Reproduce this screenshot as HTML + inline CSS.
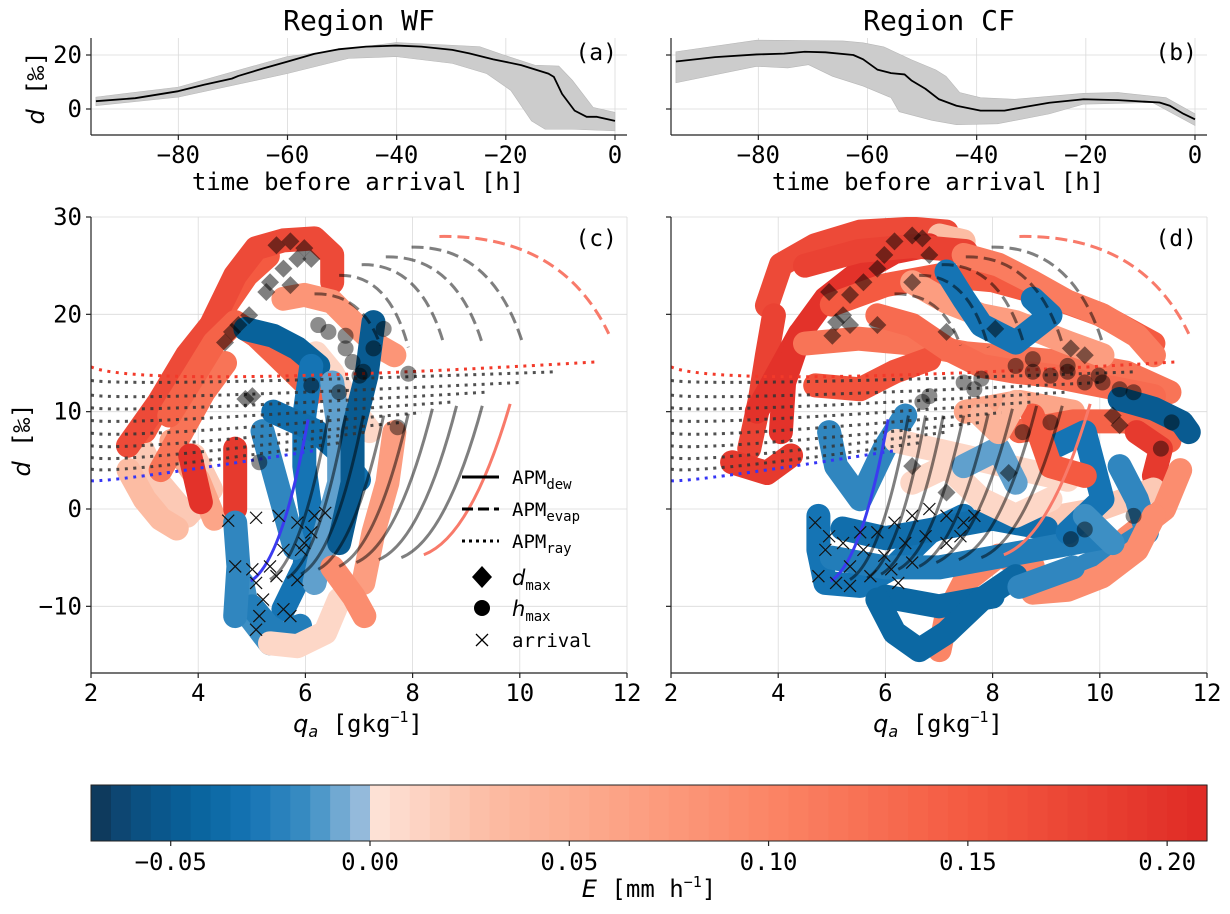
<!DOCTYPE html>
<html><head><meta charset="utf-8"><style>
html,body{margin:0;padding:0;background:#fff}
svg{display:block}
text{font-family:"DejaVu Sans Mono","Liberation Mono",monospace;fill:#000}
</style></head><body>
<svg id="fig" width="1230" height="914" viewBox="0 0 1230 914" xmlns="http://www.w3.org/2000/svg"></svg>
<script>
// ---------------- DATA ----------------
const aHours=[-95.1,-87.9,-80,-75.3,-70.2,-69,-64.5,-60.1,-55.1,-50.7,-45.6,-40.1,-35.5,-29.8,-26.7,-22.3,-17.2,-12.2,-11.2,-9.7,-7.4,-5.2,-3.3,0];
const aMean=[2.9,4.0,6.6,9.0,11.25,12.25,15,17.5,20.4,22.1,23.1,23.5,23.1,21.9,20.6,18.4,16.25,13.1,11.9,5.6,-0.6,-2.9,-2.9,-4.4];
const aUpH=[-95.1,-80,-60.1,-40.1,-24.8,-20.4,-14.7,-10.3,-7.8,-4.0,0];
const aUp=[4.4,8.1,19.4,24.6,23.1,20,16.25,15.9,10.6,0.6,-1.25];
const aLoH=[-95.1,-80,-60.1,-48.8,-40.1,-29.8,-23.5,-19.1,-15.3,-12.8,-7.8,0];
const aLo=[1.25,4.4,13.1,18.75,19.4,16.9,13.1,6.9,-4.4,-7.5,-7.5,-8.1];
const bHours=[-95.1,-87.9,-80.3,-75.3,-71.5,-67.7,-62.6,-60.8,-58.2,-55.7,-53.2,-51.9,-49.4,-46.9,-43.7,-39.3,-34.9,-31.1,-26.7,-20.4,-14.1,-6.5,-4.6,-2.1,0];
const bMean=[17.6,19.2,20.2,20.5,21.2,21,20,18.4,14.6,13.3,12.8,10.5,7.5,3.6,1.2,-0.6,-0.6,0.8,2.3,3.6,3.3,2.4,1.2,-1.8,-3.8];
const bUpH=[-95.1,-80.3,-64.5,-60.8,-57,-51.9,-47.5,-45.6,-43.1,-39.3,-33,-20.4,-14.1,-5.3,0];
const bUp=[21.2,25.5,25.2,24.5,23.0,18.2,14.5,12.1,6.1,4.2,3.6,5.8,6.1,4.2,-1.8];
const bLoH=[-95.1,-80.3,-74.6,-70.8,-66.4,-60.8,-55.7,-54.2,-48.2,-43.7,-36.2,-26.7,-20.4,-7.8,0];
const bLo=[9.7,15.8,15.2,16.4,12.1,8.5,4.2,-1.0,-4.2,-5.8,-5.5,-1.8,1.8,2.4,-6.1];

const dewBotQ=[4.98,5.34,5.66,5.92,6.24,6.63,6.95,7.37,7.79,8.21];
const dewBotD=[-7.4,-7.25,-7.1,-6.7,-6.2,-5.9,-5.5,-5.2,-5.0,-4.7];
const dewTopQ=[6.05,6.43,6.75,7.08,7.46,7.92,8.37,8.82,9.30,9.82];
const dewTopD=[9.2,9.6,9.6,9.6,9.6,9.8,10.3,10.6,10.6,10.8];
const dewKind=['blue','gray','gray','gray','gray','gray','gray','gray','gray','red'];
const evapStartQ=[6.17,6.63,7.05,7.50,7.98,8.50];
const evapStartD=[22.1,24.0,25.1,25.9,26.9,28.0];
const evapEndQ=[7.40,7.92,8.59,9.30,10.05,11.66];
const evapEndD=[16.8,16.6,16.8,17.0,17.1,18.0];
const evapKind=['gray','gray','gray','gray','gray','red'];
const rayStartD=[14.6,13.2,11.7,10.4,9.1,7.8,6.5,5.3,4.1,2.9];
const rayMidD=[13.6,13.1,11.7,10.5,9.3,8.0,6.8,5.6,4.5,3.6];
const rayEndQ=[11.40,10.69,10.01,9.37,8.75,8.17,7.79,7.14,6.63,6.17];
const rayEndD=[15.1,14.1,13.0,12.0,11.0,9.9,8.9,7.9,6.8,6.0];
const rayKind=['red','gray','gray','gray','gray','gray','gray','gray','gray','blue'];

const cTrajQ=[
 [2.95,3.27,3.79,4.24,3.92],
 [2.7,3.0,3.3,3.6],
 [3.5,4.0,4.3],
 [3.3,3.7,4.1,4.5],
 [3.0,3.4,3.9,4.4,4.9,5.3],
 [2.69,3.27,3.79,4.24,4.69,5.08,5.59,6.17,6.5,6.5],
 [3.46,3.92,4.3,4.69,5.08,5.46,5.85,6.17],
 [5.59,5.98,6.5,6.88,7.34,7.66],
 [4.69,4.69],[3.85,4.05],
 [6.2,6.5,6.8,7.2],
 [4.88,5.40,5.85,6.24],
 [6.11,5.98,5.98,6.11,5.98,5.59],
 [5.2,5.5,5.8],
 [5.4,5.8,6.2,6.6,7.0],
 [6.5,6.63,6.63,6.37,6.17],
 [7.27,7.14,6.88,6.88,6.63],
 [4.82,4.95,5.34],
 [5.0,5.3,5.6,5.9],
 [5.34,5.85,6.37,6.63],
 [4.69,4.75,4.69],
 [7.66,7.53,7.27,7.08],
 [6.5,6.9,7.1]
];
const cTrajD=[
 [6.2,2.7,-0.7,2.0,5.5],
 [4,1,-1,-2],
 [7,3,-1],
 [4,8,12,15],
 [8,12,16,20,24,26],
 [6.5,11,15.8,18.9,24,26.8,27.6,27.8,26.1,23.3],
 [9.6,13.7,17.1,19.2,17.8,15.8,13.7,12.0],
 [21.6,22,21.3,19.2,16.8,15.8],
 [6.2,0],[5.5,0.7],
 [16,14,11,8],
 [18.5,17.8,16.5,14.7],
 [14.7,9.6,4.4,-0.7,-5.9,-10.3],
 [8,2,-4],
 [10,9,8,6,3],
 [13,7.9,2.7,-2.4,-7.6],
 [19.2,13.7,7.9,2.7,-3.5],
 [-7.6,-11,-13.8],
 [-10,-12,-13,-12],
 [-13.8,-14.1,-12.7,-9.3],
 [-1.4,-5.9,-11],
 [7.9,2.7,-2.4,-7.6],
 [-6,-9,-11]
];
const cTrajE=[0.02,0.03,0.06,0.12,0.15,0.17,0.14,0.08,0.19,0.2,0.01,-0.045,-0.03,-0.02,-0.035,-0.01,-0.05,-0.015,-0.025,0.01,-0.02,0.07,0.09];

const dTrajQ=[
 [3.79,4.05,4.69,5.53,6.50,7.14],
 [7.01,7.46],
 [3.46,3.66,3.79,3.92],
 [3.6,4.0,4.4],
 [4.05,4.11,4.43,4.88,5.53,6.17,6.82],
 [4.5,5.5,6.5,7.5],
 [5,6,7,8,9,10,11],
 [4.5,5.5,6.5,7.5,8.5,9.5,10.5,11.3],
 [3.14,3.79,4.24],
 [4.69,5.53,6.17,6.82],
 [5.85,6.5,7.14,7.79,8.43,9.08,9.72,10.37,11.01],
 [7.46,8.11,8.75,9.40,10.05,10.69,11.01],
 [6.5,7.14,7.79,8.43,9.40,10.05],
 [7.14,7.46,7.79,8.43,9.08,8.75],
 [7.5,8.5,9.5],
 [8.5,9.5,10.5,11.3],
 [10.37,11.01,11.53,11.66],
 [10.69,11.14,11.01],
 [9,10,11],
 [10.5,11.2,11.5],
 [10.37,10.69,10.88,10.37,9.72],
 [11.01,10.69,10.05,9.40,8.75],
 [8.75,8.11,7.46,7.14,7.01],
 [4.75,4.75,4.88,5.53,6.17,6.82,7.46],
 [5.2,6,7,8,9],
 [5,6,7,8,9,10],
 [6,7,8],
 [4.95,5.08,5.53,5.98,6.37],
 [5.85,6.17,6.63,7.14,7.79,8.43],
 [6.2,7,7.8,8.6,9.4],
 [6.5,7.14,7.79,8.43,9.08],
 [7.46,8.11,8.43],
 [9.08,9.72,10.05,9.40],
 [8.75,9.08,9.72],
 [7.79,8.11,8.43],
 [9.72,10.24],
 [8.5,9.5]
];
const dTrajD=[
 [20.9,25.1,27.1,28.5,28.8,28.5],
 [28.1,27.5],
 [6.2,11.3,15.8,19.9],
 [10,14,18],
 [7.9,13,18.2,21.6,24.4,26.4,27.1],
 [25,26.5,27,26.5],
 [21,23,24,23.5,22,20,17],
 [17,17.5,17,16,15.5,15,14,12],
 [4.8,3.7,5.5],
 [12.7,12.3,14.1,15.4],
 [19.9,18.9,16.5,14.7,14.1,13.7,13.0,12.3,11.6],
 [26.1,25.1,23.3,21.3,19.9,17.8,15.8],
 [23.3,21.3,19.9,19.2,17.1,15.8],
 [24.4,21.6,18.9,17.1,19.9,21.6],
 [10,11,10],
 [8,9,9,7],
 [11.3,10.3,8.9,7.9],
 [7.9,6.2,3.4],
 [-1,0,2],
 [-3,0,4],
 [4.4,1.0,-2.4,-4.2,-5.9],
 [-0.7,-4.2,-6.9,-8.3,-8.6],
 [-5.9,-4.8,-7.6,-11.0,-14.5],
 [-0.7,-4.2,-7.6,-7.9,-5.9,-2.4,-0.7],
 [-2,-3,-2,-1,-2],
 [-5,-6,-6,-5,-4,-3],
 [-9,-10,-9],
 [7.9,4.4,1.0,6.2,9.6],
 [-9.3,-12.7,-14.5,-12.7,-9.3,-6.9],
 [7,6,5,4,3],
 [2.7,4.4,1.0,-0.7,1.0],
 [4.4,6.2,2.7],
 [6.2,7.9,1.0,-2.4],
 [9.6,4.4,3.4],
 [9.6,7.9,11],
 [-0.7,-3.5],
 [-8,-6]
];
const dTrajE=[0.17,0.03,0.18,0.2,0.2,0.18,0.15,0.12,0.19,0.16,0.13,0.11,0.07,-0.03,0.06,0.14,-0.05,0.19,0.02,0.09,-0.02,0.09,0.1,-0.03,-0.035,-0.025,-0.04,-0.02,-0.04,0.01,0.01,-0.01,-0.03,0.15,0.04,-0.015,-0.02];

const cDiaQ=[5.46,5.72,5.98,5.34,5.59,5.85,6.11,5.27,5.72,4.95,4.75,4.50,4.63,5.01,4.88];
const cDiaD=[27.1,27.5,26.8,23.3,24.7,25.7,25.7,22.3,23.0,19.9,18.9,17.1,18.2,11.6,11.3];
const cCirQ=[6.24,6.43,6.75,6.88,7.08,7.27,7.46,7.01,6.63,7.92,7.72,5.14,6.11,6.75];
const cCirD=[18.9,18.2,16.5,15.1,14.1,16.5,18.5,13.7,12,13.9,8.4,4.8,12.7,17.8];
const cXQ=[4.56,5.08,5.50,5.85,6.11,6.37,5.98,5.59,5.34,5.01,4.69,5.08,5.46,5.85,5.21,5.59,5.72,5.14,5.08,6.17,5.92];
const cXD=[-1.2,-0.9,-0.7,-1.4,-2.4,-0.4,-3.5,-4.2,-5.9,-6.2,-5.9,-7.6,-6.9,-7.3,-9.3,-10.3,-11.0,-11.0,-12.4,-0.7,-4.2];
const dDiaQ=[6.17,6.5,6.69,5.98,5.85,5.59,5.34,5.21,5.08,5.34,4.95,5.01,5.85,6.5,6.82,8.05,7.14,9.46,9.72,10.24,10.37,6.5,8.3,7.14];
const dDiaD=[27.5,28.1,27.8,26.1,24.7,23.3,22.0,19.9,19.2,18.9,22.3,17.8,18.9,23.3,26.1,18.5,18.2,16.5,15.8,9.6,8.6,4.4,3.7,1.7];
const dCirQ=[8.43,8.75,9.08,9.40,9.72,10.05,10.37,7.79,7.46,6.82,6.69,8.75,9.40,9.98,10.63,11.34,11.14,9.72,9.46,10.63,8.56,9.08,7.66];
const dCirD=[14.7,14.1,13.7,14.1,13.0,13.0,12.3,13.4,13.0,11.6,11.0,15.4,14.7,13.7,12.0,8.9,6.2,-2.1,-3.1,-0.7,7.9,8.9,12.3];
const dXQ=[4.69,4.88,4.75,5.08,5.34,5.59,5.85,6.17,6.5,6.82,7.14,7.46,7.66,5.21,5.53,5.98,6.37,6.75,7.14,7.40,5.72,6.11,6.5,5.34,4.95,6.24];
const dXD=[-1.4,-4.2,-6.9,-7.6,-5.9,-4.2,-2.4,-1.4,-0.7,0,-0.7,-1.4,-0.7,-3.5,-2.4,-4.8,-3.5,-2.8,-3.5,-2.8,-6.9,-6.2,-5.5,-7.9,-2.8,-7.6];

const timeTicks=[-80,-60,-40,-20,0];
const aYTicks=[20,0];
const qTicks=[2,4,6,8,10,12];
const dTicks=[30,20,10,0,-10];
const cbTicks=[-0.05,0,0.05,0.10,0.15,0.20];
const cbLabels=['−0.05','0.00','0.05','0.10','0.15','0.20'];

// ---------------- RENDER ----------------
const NS='http://www.w3.org/2000/svg';
const svg=document.getElementById('fig');
function el(tag,attrs,parent){const e=document.createElementNS(NS,tag);for(const k in attrs)e.setAttribute(k,attrs[k]);(parent||svg).appendChild(e);return e;}
function lin(d0,d1,p0,p1){return v=>p0+(v-d0)*(p1-p0)/(d1-d0);}

const negStops=[[-0.07,[15,52,82]],[-0.06,[12,76,124]],[-0.045,[8,98,155]],[-0.03,[21,116,180]],[-0.015,[61,143,196]],[0,[166,195,224]]];
const posStops=[[0,[253,228,217]],[0.03,[252,188,163]],[0.06,[252,165,136]],[0.10,[251,133,102]],[0.15,[244,90,65]],[0.21,[223,42,37]]];
function cmap(v){
  const st=v<0?negStops:posStops;
  if(v<=st[0][0])return 'rgb('+st[0][1]+')';
  for(let i=1;i<st.length;i++){if(v<=st[i][0]){const t=(v-st[i-1][0])/(st[i][0]-st[i-1][0]);const c=st[i-1][1].map((a,j)=>Math.round(a+(st[i][1][j]-a)*t));return 'rgb('+c+')';}}
  return 'rgb('+st[st.length-1][1]+')';
}

function axesFrame(g,L,R,T,B,xs,ys,xt,yt,name){
  const grid=el('g',{},g);
  
  
  xt.forEach(v=>el('line',{x1:xs(v),x2:xs(v),y1:T,y2:B,stroke:'#dadada','stroke-width':0.8},grid));
  yt.forEach(v=>el('line',{x1:L,x2:R,y1:ys(v),y2:ys(v),stroke:'#dadada','stroke-width':0.8},grid));
}
function axesSpines(g,L,R,T,B,xs,ys,xt,yt,xtLabels,ytLabels,name,fs){
  const ax=el('g',{},g);
  
  
  el('line',{x1:L,x2:L,y1:T,y2:B,stroke:'#222','stroke-width':1.2},ax);
  el('line',{x1:L,x2:R,y1:B,y2:B,stroke:'#222','stroke-width':1.2},ax);
  xt.forEach((v,i)=>{el('line',{x1:xs(v),x2:xs(v),y1:B,y2:B+5,stroke:'#222','stroke-width':1.2},ax);
    if(xtLabels){const t=el('text',{x:xs(v),y:B+28,'text-anchor':'middle','font-size':fs},ax);t.textContent=xtLabels[i];
      
      }});
  yt.forEach((v,i)=>{el('line',{x1:L-5,x2:L,y1:ys(v),y2:ys(v),stroke:'#222','stroke-width':1.2},ax);
    if(ytLabels){const t=el('text',{x:L-9,y:ys(v)+8,'text-anchor':'end','font-size':fs},ax);t.textContent=ytLabels[i];
      
      }});
}
function fmtNum(v){return v<0?'−'+Math.abs(v):String(v);}

function topPanel(L,R,hours,mean,upH,up,loH,lo,title,tag,showY,name){
  const T=38,B=135;
  const xs=lin(-96,2.2,L,R), ys=lin(0,20,109,55);
  const g=el('g',{});
  
  
  axesFrame(g,L,R,T,B,xs,ys,timeTicks,aYTicks,name);
  let pts=upH.map((h,i)=>xs(h)+','+ys(up[i]));
  for(let i=loH.length-1;i>=0;i--)pts.push(xs(loH[i])+','+ys(lo[i]));
  const band=el('polygon',{points:pts.join(' '),fill:'#cccccc',stroke:'#b8b8b8','stroke-width':0.6},g);
  
  
  const ln=el('polyline',{points:hours.map((h,i)=>xs(h)+','+ys(mean[i])).join(' '),fill:'none',stroke:'#000','stroke-width':1.8,'stroke-linejoin':'round'},g);
  
  
  axesSpines(g,L,R,T,B,xs,ys,timeTicks,aYTicks,timeTicks.map(fmtNum),showY?aYTicks.map(fmtNum):null,name,24);
  const tt=el('text',{x:(L+R)/2,y:30,'text-anchor':'middle','font-size':28},g);tt.textContent=title;
  
  
  const tg=el('text',{x:R-10,y:60,'text-anchor':'end','font-size':23},g);tg.textContent=tag;
  
  
  const xl=el('text',{x:(L+R)/2-1,y:190,'text-anchor':'middle','font-size':24},g);xl.textContent='time before arrival [h]';
  
  
}
topPanel(91,627,aHours,aMean,aUpH,aUp,aLoH,aLo,'Region WF','(a)',true,'panel-a');
topPanel(671,1207,bHours,bMean,bUpH,bUp,bLoH,bLo,'Region CF','(b)',false,'panel-b');
{const yl=el('text',{x:0,y:0,'text-anchor':'middle','font-size':24,transform:'translate(44,88) rotate(-90)'});
yl.innerHTML='<tspan font-style="italic" font-family="DejaVu Sans">d</tspan> [‰]';

}

function scatterPanel(L,R,tq,td,te,diaQ,diaD,cirQ,cirD,xQ,xD,tag,showY,name){
  const T=217,B=673;
  const xs=lin(2,12,L,R), ys=lin(0,30,509,217);
  const g=el('g',{});
  
  
  axesFrame(g,L,R,T,B,xs,ys,qTicks,dTicks,name);
  const cp='clip-'+name;
  const defs=el('defs',{},g);const clip=el('clipPath',{id:cp},defs);el('rect',{x:L,y:T,width:R-L,height:B-T},clip);
  const sc=el('g',{'clip-path':'url(#'+cp+')'},g);
  
  
  tq.forEach((qs,k)=>{
    const col=cmap(te[k]);
    const p=el('polyline',{points:qs.map((q,i)=>xs(q)+','+ys(td[k][i])).join(' '),fill:'none',stroke:col,'stroke-width':24,'stroke-linecap':'round','stroke-linejoin':'round'},sc);
    
    
  });
  const apm=el('g',{'clip-path':'url(#'+cp+')'},g);
  
  
  const kc={gray:'rgba(0,0,0,0.5)',red:'#f87a6a',blue:'#3b3bf0'};
  const rc={gray:'#333',red:'#f23a2a',blue:'#3535f5'};
  rayStartD.forEach((d0,i)=>{
    const x0=xs(2),y0=ys(d0),xm=xs(2+0.3*(rayEndQ[i]-2)),ym=ys(rayMidD[i]),x1=xs(rayEndQ[i]),y1=ys(rayEndD[i]);
    const cx=2*xm-(x0+x1)/2, cy=2*ym-(y0+y1)/2;
    const p=el('path',{d:`M${x0},${y0} Q${cx},${cy} ${x1},${y1}`,fill:'none',stroke:rc[rayKind[i]],'stroke-width':3,'stroke-dasharray':'3 5.5','opacity':rayKind[i]=='gray'?0.85:1},apm);
    
    
  });
  dewBotQ.forEach((q,i)=>{
    const x0=xs(q),y0=ys(dewBotD[i]),x1=xs(dewTopQ[i]),y1=ys(dewTopD[i]);
    const cx=x0+0.55*(x1-x0), cy=y0-0.12*(y0-y1);
    const p=el('path',{d:`M${x0},${y0} Q${cx},${cy} ${x1},${y1}`,fill:'none',stroke:kc[dewKind[i]],'stroke-width':3},apm);
    
    
  });
  evapStartQ.forEach((q,i)=>{
    const x0=xs(q),y0=ys(evapStartD[i]),x1=xs(evapEndQ[i]),y1=ys(evapEndD[i]);
    const cx=x0+0.72*(x1-x0), cy=y0-0.02*(y1-y0);
    const p=el('path',{d:`M${x0},${y0} Q${cx},${cy} ${x1},${y1}`,fill:'none',stroke:kc[evapKind[i]],'stroke-width':3,'stroke-dasharray':'12 6'},apm);
    
    
  });
  const mk=el('g',{'clip-path':'url(#'+cp+')'},g);
  
  
  diaQ.forEach((q,i)=>{const x=xs(q),y=ys(diaD[i]);
    const m=el('polygon',{points:`${x},${y-9} ${x+9},${y} ${x},${y+9} ${x-9},${y}`,fill:'rgba(0,0,0,0.5)'},mk);
    
    });
  cirQ.forEach((q,i)=>{
    const m=el('circle',{cx:xs(q),cy:ys(cirD[i]),r:8,fill:'rgba(0,0,0,0.45)'},mk);
    
    });
  xQ.forEach((q,i)=>{const x=xs(q),y=ys(xD[i]);
    const m=el('path',{d:`M${x-6},${y-6}L${x+6},${y+6}M${x-6},${y+6}L${x+6},${y-6}`,stroke:'#111','stroke-width':1.2,fill:'none'},mk);
    
    });
  axesSpines(g,L,R,T,B,xs,ys,qTicks,dTicks,qTicks.map(String),showY?dTicks.map(fmtNum):null,name,24);
  const tg=el('text',{x:R-10,y:246,'text-anchor':'end','font-size':23},g);tg.textContent=tag;
  
  
  const xl=el('text',{x:(L+R)/2-1,y:732,'text-anchor':'middle','font-size':24},g);
  xl.innerHTML='<tspan font-style="italic" font-family="DejaVu Sans">q</tspan><tspan font-style="italic" font-family="DejaVu Sans" font-size="16" dy="5">a</tspan><tspan dy="-5"> [gkg</tspan><tspan font-size="15" dy="-10">−1</tspan><tspan dy="10">]</tspan>';
  
  
}
scatterPanel(91,627,cTrajQ,cTrajD,cTrajE,cDiaQ,cDiaD,cCirQ,cCirD,cXQ,cXD,'(c)',true,'panel-c');
scatterPanel(671,1207,dTrajQ,dTrajD,dTrajE,dDiaQ,dDiaD,dCirQ,dCirD,dXQ,dXD,'(d)',false,'panel-d');
{const yl=el('text',{x:0,y:0,'text-anchor':'middle','font-size':24,transform:'translate(30,440) rotate(-90)'});
yl.innerHTML='<tspan font-style="italic" font-family="DejaVu Sans">d</tspan> [‰]';

}

{const lg=el('g',{});


const rows=[['solid','APM','dew',477],['dash','APM','evap',509],['dot','APM','ray',541]];
rows.forEach(r=>{
  const a={x1:462,x2:499,y1:r[3],y2:r[3],stroke:'#000','stroke-width':3};
  if(r[0]=='dash')a['stroke-dasharray']='11 5';
  if(r[0]=='dot')a['stroke-dasharray']='3 4';
  const l=el('line',a,lg);
  
  
  const t=el('text',{x:512,y:r[3]+7,'font-size':19},lg);
  t.innerHTML=r[1]+'<tspan font-size="14" dy="5">'+r[2]+'</tspan>';
  
  
});
el('polygon',{points:'482,566 492,577 482,588 472,577',fill:'#000'},lg);
el('circle',{cx:482,cy:608,r:8,fill:'#000'},lg);
el('path',{d:'M476,634L488,646M476,646L488,634',stroke:'#000','stroke-width':1.3},lg);
const t1=el('text',{x:512,y:585,'font-size':21},lg);t1.innerHTML='<tspan font-style="italic" font-family="DejaVu Sans">d</tspan><tspan font-size="14" dy="5">max</tspan>';


const t2=el('text',{x:512,y:616,'font-size':21},lg);t2.innerHTML='<tspan font-style="italic" font-family="DejaVu Sans">h</tspan><tspan font-size="14" dy="5">max</tspan>';


const t3=el('text',{x:512,y:647,'font-size':19},lg);t3.textContent='arrival';


}

{const cb=el('g',{});


const L=91,R=1207,T=785,B=841;const xs=lin(-0.07,0.21,L,R);
for(let v=-0.07;v<0.2099;v+=0.005){
  const x0=xs(v),x1=xs(Math.min(v+0.005,0.21));
  el('rect',{x:x0,y:T,width:x1-x0+0.6,height:B-T,fill:cmap(v+0.0025)},cb);
}
el('rect',{x:L,y:T,width:R-L,height:B-T,fill:'none',stroke:'#222','stroke-width':1},cb);
cbTicks.forEach((v,i)=>{el('line',{x1:xs(v),x2:xs(v),y1:B,y2:B+5,stroke:'#222','stroke-width':1.2},cb);
  const t=el('text',{x:xs(v),y:B+29,'text-anchor':'middle','font-size':24},cb);t.textContent=cbLabels[i];
  
  });
const cl=el('text',{x:649,y:897,'text-anchor':'middle','font-size':24},cb);
cl.innerHTML='<tspan font-style="italic" font-family="DejaVu Sans">E</tspan> [mm h<tspan font-size="15" dy="-10">−1</tspan><tspan dy="10">]</tspan>';


}
</script>
</body></html>
